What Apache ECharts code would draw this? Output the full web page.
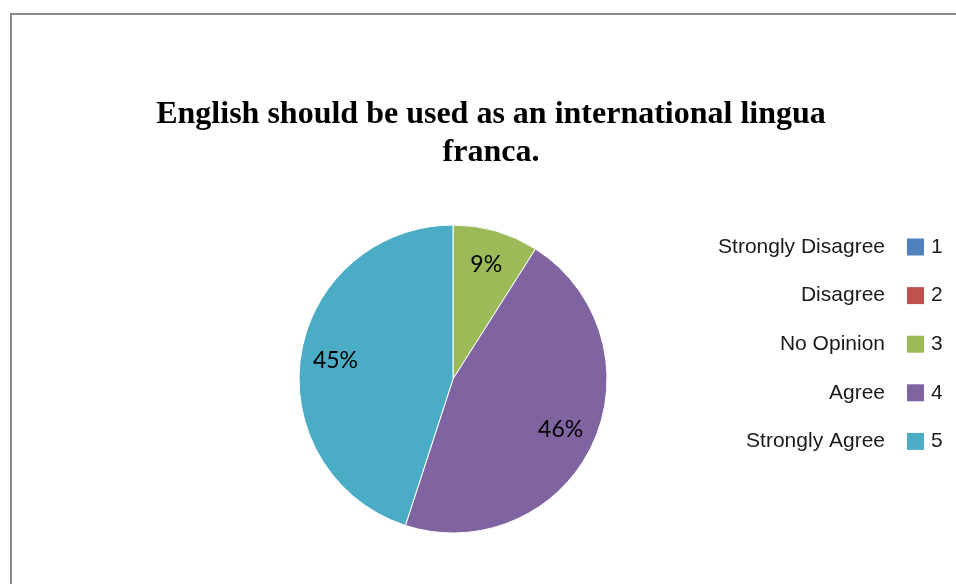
<!DOCTYPE html>
<html>
<head>
<meta charset="utf-8">
<title>English as an international lingua franca</title>
<script src="https://cdn.jsdelivr.net/npm/echarts@6/dist/echarts.min.js"></script>
<style>
  html, body { margin: 0; padding: 0; background: #ffffff; }
  #chart { width: 956px; height: 584px; }
</style>
</head>
<body>
<div id="chart"></div>
<script>
// Survey answers (percent of respondents)
var categories = ['Strongly Disagree', 'Disagree', 'No Opinion', 'Agree', 'Strongly Agree'];
var keyNumbers = ['1', '2', '3', '4', '5'];
var shares = [0, 0, 9, 46, 45];
var palette = ['#4F81BD', '#C0504D', '#9BBB59', '#8064A2', '#4BACC6'];
var titleText = 'English should be used as an international lingua\nfranca.';

var sliceData = categories.map(function (name, i) {
  return { name: name, value: shares[i] };
});

var legendText = { fontFamily: 'Liberation Sans, Arial, sans-serif', fontSize: 21, color: '#1a1a1a', lineHeight: 22 };

var chart = echarts.init(document.getElementById('chart'), null, { renderer: 'canvas' });
chart.setOption({
  backgroundColor: '#ffffff',
  animation: false,
  color: palette,
  legend: [
    {
      // category names, right-aligned before the colour keys
      data: categories,
      orient: 'vertical',
      align: 'right',
      right: 65,
      top: 236,
      padding: 0,
      itemWidth: 0,
      itemHeight: 17,
      itemGap: 26.6,
      selectedMode: false,
      textStyle: legendText
    },
    {
      // colour keys with their answer numbers
      data: categories,
      orient: 'vertical',
      align: 'left',
      left: 907,
      top: 236,
      padding: 0,
      icon: 'rect',
      itemWidth: 17,
      itemHeight: 17,
      itemGap: 26.6,
      selectedMode: false,
      itemStyle: { borderWidth: 0 },
      formatter: function (name) {
        return keyNumbers[categories.indexOf(name)];
      },
      textStyle: echarts.util.extend({ padding: [0, 0, 0, 2] }, legendText)
    }
  ],
  series: [
    {
      type: 'pie',
      center: [453, 379],
      radius: [0, 154],
      startAngle: 90,
      clockwise: true,
      silent: true,
      data: sliceData,
      itemStyle: { borderColor: '#ffffff', borderWidth: 1 },
      label: { show: false },
      labelLine: { show: false }
    },
    {
      // transparent ring carrying the percentage labels
      type: 'pie',
      center: [453, 379],
      radius: [78, 154],
      startAngle: 90,
      clockwise: true,
      silent: true,
      data: sliceData,
      itemStyle: { color: 'rgba(0,0,0,0)', borderWidth: 0 },
      label: {
        show: true,
        position: 'inside',
        fontFamily: 'Lato, Open Sans, sans-serif',
        fontSize: 23,
        color: '#000000',
        formatter: function (p) {
          return p.value > 0 ? p.value + '%' : '';
        }
      },
      labelLine: { show: false }
    }
  ],
  graphic: [
    {
      type: 'rect',
      silent: true,
      z: -1,
      shape: { x: 11, y: 14, width: 1200, height: 1200 },
      style: { fill: 'none', stroke: '#8a8a8a', lineWidth: 2 }
    },
    {
      type: 'text',
      silent: true,
      x: 491,
      y: 96,
      style: {
        text: titleText,
        align: 'center',
        verticalAlign: 'top',
        fontFamily: 'Liberation Serif, Times New Roman, serif',
        fontWeight: 'bold',
        fontSize: 32,
        lineHeight: 38,
        fill: '#000000'
      }
    }
  ]
});
</script>
</body>
</html>
